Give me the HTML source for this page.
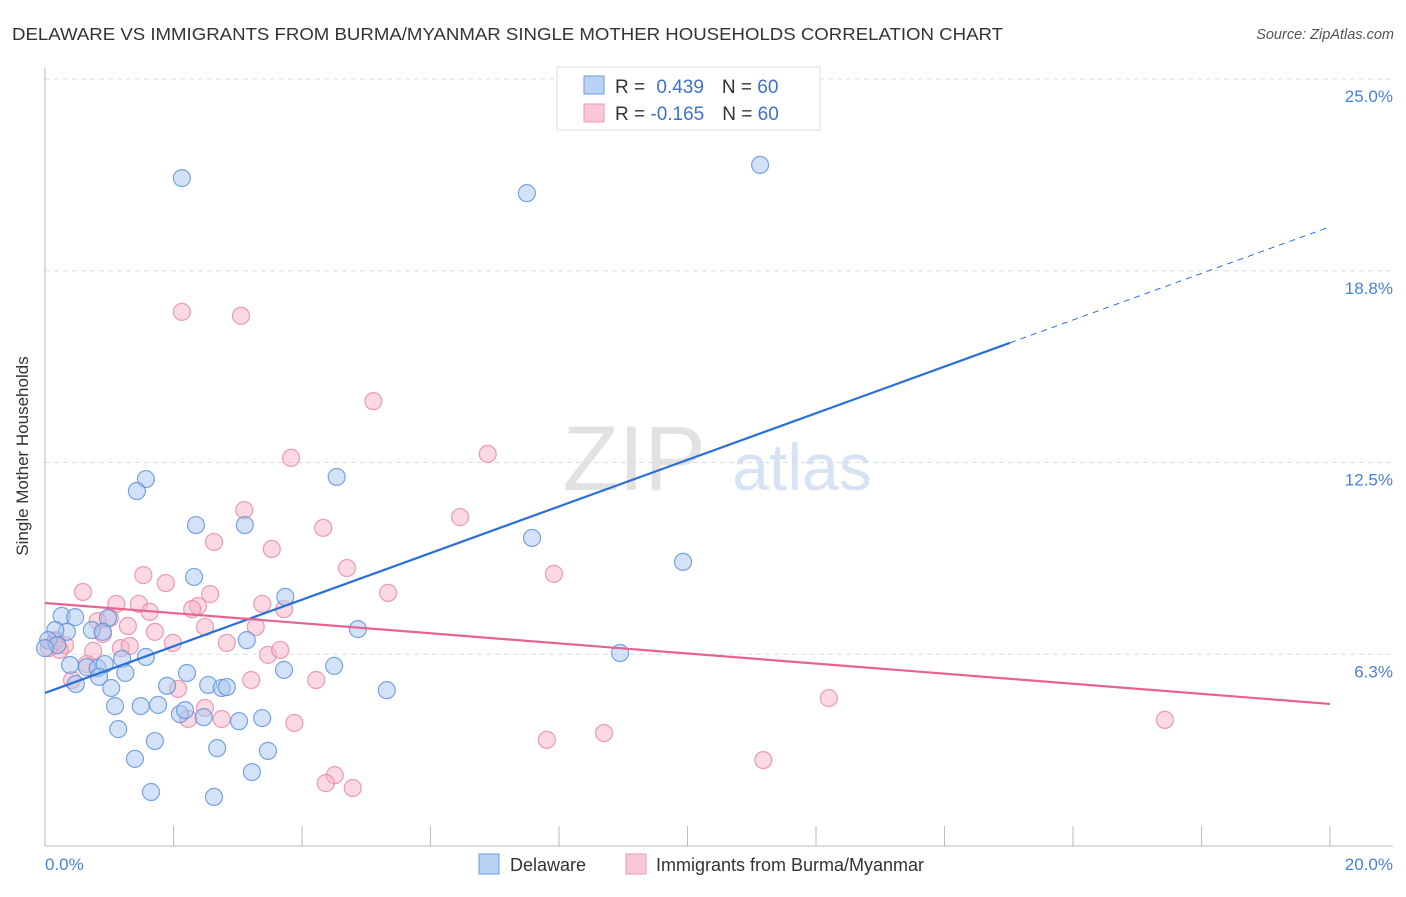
<!DOCTYPE html>
<html><head><meta charset="utf-8"><style>
body{margin:0;background:#fff;font-family:"Liberation Sans",sans-serif}
svg text{font-family:"Liberation Sans",sans-serif}
</style></head><body>
<svg id="chart" width="1406" height="892" viewBox="0 0 1406 892">
<text x="12" y="40" font-size="17.5" fill="#333" textLength="991" lengthAdjust="spacingAndGlyphs">DELAWARE VS IMMIGRANTS FROM BURMA/MYANMAR SINGLE MOTHER HOUSEHOLDS CORRELATION CHART</text>
<text x="1394" y="39" font-size="14.5" fill="#555" font-style="italic" text-anchor="end">Source: ZipAtlas.com</text>
<text x="634" y="490" font-size="92" fill="#e2e2e2" font-family="Liberation Serif" text-anchor="middle">ZIP</text>
<text x="802" y="490" font-size="66" fill="#d6e3f5" text-anchor="middle">atlas</text>
<g id="grid"></g><g id="axes"></g><g id="pts"></g><g id="lines"></g>
<text x="28" y="456" font-size="17" fill="#333" transform="rotate(-90 28 456)" text-anchor="middle">Single Mother Households</text>
<text x="45" y="870" font-size="17" fill="#4a7fd6">0.0%</text>
<text x="1393" y="870" font-size="17" fill="#4a7fd6" text-anchor="end">20.0%</text>
<g>
<rect x="557" y="67" width="263" height="63" fill="#fff" stroke="#ddd"/>
<rect x="584" y="76" width="20" height="18" fill="#b9d3f4" stroke="#6b9be0"/>
<rect x="584" y="104" width="20" height="18" fill="#f9c8d6" stroke="#ec9ab3"/>
<text x="615" y="93" font-size="19" fill="#333">R = <tspan fill="#3a72d0" dx="6">0.439</tspan><tspan dx="18" fill="#333">N = </tspan><tspan fill="#3a72d0">60</tspan></text>
<text x="615" y="120" font-size="19" fill="#333">R = <tspan fill="#3a72d0">-0.165</tspan><tspan dx="18" fill="#333">N = </tspan><tspan fill="#3a72d0">60</tspan></text>
</g>
<g>
<rect x="479" y="854" width="20" height="20" fill="#b9d3f4" stroke="#6b9be0"/>
<text x="510" y="871" font-size="18" fill="#333">Delaware</text>
<rect x="626" y="854" width="20" height="20" fill="#f9c8d6" stroke="#ec9ab3"/>
<text x="656" y="871" font-size="18" fill="#333">Immigrants from Burma/Myanmar</text>
</g>
</svg>
<script>
const yTicks=[6.25,12.5,18.75,25];
const yTickLabels=["6.3%","12.5%","18.8%","25.0%"];
const xTicks=[0,2,4,6,8,10,12,14,16,18,20];
const blueX=[2.13,7.50,11.13,4.54,1.57,1.43,2.35,3.11,7.58,9.93,2.32,3.74,4.87,8.95,0.26,0.47,0.98,0.73,0.90,0.34,0.16,0.05,0.19,0.0,0.39,0.65,0.82,0.93,1.57,1.20,1.25,0.84,0.48,1.03,1.90,2.21,2.54,2.75,2.83,3.72,4.50,5.32,3.14,1.09,1.49,1.76,2.10,2.18,2.47,3.02,3.38,1.14,1.71,2.68,3.47,1.40,3.22,1.65,2.63];
const blueY=[21.77,21.28,22.20,12.03,11.96,11.57,10.46,10.46,10.04,9.26,8.77,8.12,7.07,6.29,7.50,7.46,7.43,7.04,6.98,6.98,7.04,6.71,6.55,6.45,5.90,5.83,5.80,5.93,6.16,6.10,5.64,5.51,5.28,5.15,5.22,5.64,5.25,5.15,5.18,5.74,5.87,5.08,6.71,4.56,4.56,4.60,4.30,4.43,4.20,4.07,4.17,3.81,3.42,3.19,3.10,2.84,2.41,1.76,1.60];
const pinkX=[2.13,3.05,5.11,3.83,6.89,6.46,3.10,4.33,2.63,3.53,4.70,7.92,1.53,1.88,0.59,2.57,5.34,1.46,1.11,2.38,2.29,3.38,3.72,1.63,1.01,0.82,1.29,2.49,1.71,3.28,1.99,0.90,2.83,0.16,0.31,0.06,0.75,3.47,3.66,1.18,2.07,0.42,0.65,3.21,4.22,12.20,2.23,2.75,3.88,17.43,7.81,8.70,11.18,4.51,4.37,4.79,0.17,0.23,1.32,2.49];
const pinkY=[17.41,17.28,14.50,12.65,12.78,10.72,10.95,10.37,9.91,9.68,9.06,8.87,8.83,8.57,8.28,8.21,8.25,7.89,7.89,7.82,7.72,7.89,7.72,7.63,7.43,7.33,7.17,7.14,6.98,7.14,6.62,6.91,6.62,6.68,6.55,6.45,6.36,6.23,6.39,6.45,5.12,5.41,5.93,5.41,5.41,4.82,4.14,4.14,4.01,4.11,3.46,3.68,2.80,2.31,2.05,1.89,6.71,6.39,6.52,4.50];
const blueTrend=[4.99,0.7597];
const pinkTrend=[7.92,-0.1645];
const blueSolidEnd=15.02;
const NS="http://www.w3.org/2000/svg";
const xs=v=>45+v/20*1285, ys=v=>846-v*30.68;
function mk(t,a,p){const e=document.createElementNS(NS,t);for(const k in a)e.setAttribute(k,a[k]);document.getElementById(p).appendChild(e);return e;}
yTicks.forEach((t,i)=>{
 const l=mk('line',{x1:45,x2:1393,y1:ys(t),y2:ys(t),stroke:'#ddd','stroke-dasharray':'5,4'},'grid');
 
 
 const tx=mk('text',{x:1393,y:ys(t)+23,'font-size':17,fill:'#4a7fd6','text-anchor':'end'},'grid');
 tx.textContent=yTickLabels[i];
 
 
});
const ax=mk('line',{x1:45,x2:1393,y1:846,y2:846,stroke:'#bbb'},'axes');


const ay=mk('line',{x1:45,x2:45,y1:68,y2:846,stroke:'#bbb'},'axes');


xTicks.forEach(t=>{
 const l=mk('line',{x1:xs(t),x2:xs(t),y1:826,y2:846,stroke:'#bbb'},'axes');
 
 
});
function pts(X,Y,fill,stroke,name){X.forEach((x,i)=>{
 const c=mk('circle',{cx:xs(x),cy:ys(Y[i]),r:8.5,fill:fill,'fill-opacity':0.5,stroke:stroke,'stroke-width':1.2,'stroke-opacity':0.8},'pts');
 
 
});}
pts(pinkX,pinkY,'#f5b3c6','#e884a3','burma-point');
pts(blueX,blueY,'#a7c6ef','#5b8fd8','delaware-point');
const b1=mk('line',{x1:xs(0),y1:ys(blueTrend[0]),x2:xs(blueSolidEnd),y2:ys(blueTrend[0]+blueTrend[1]*blueSolidEnd),stroke:'#2a6fd6','stroke-width':2.2},'lines');


const b2=mk('line',{x1:xs(blueSolidEnd),y1:ys(blueTrend[0]+blueTrend[1]*blueSolidEnd),x2:xs(20),y2:ys(blueTrend[0]+blueTrend[1]*20),stroke:'#2a6fd6','stroke-width':1,'stroke-dasharray':'6,5'},'lines');


const p1=mk('line',{x1:xs(0),y1:ys(pinkTrend[0]),x2:xs(20),y2:ys(pinkTrend[0]+pinkTrend[1]*20),stroke:'#e8628f','stroke-width':2.2},'lines');


</script>
</body></html>
